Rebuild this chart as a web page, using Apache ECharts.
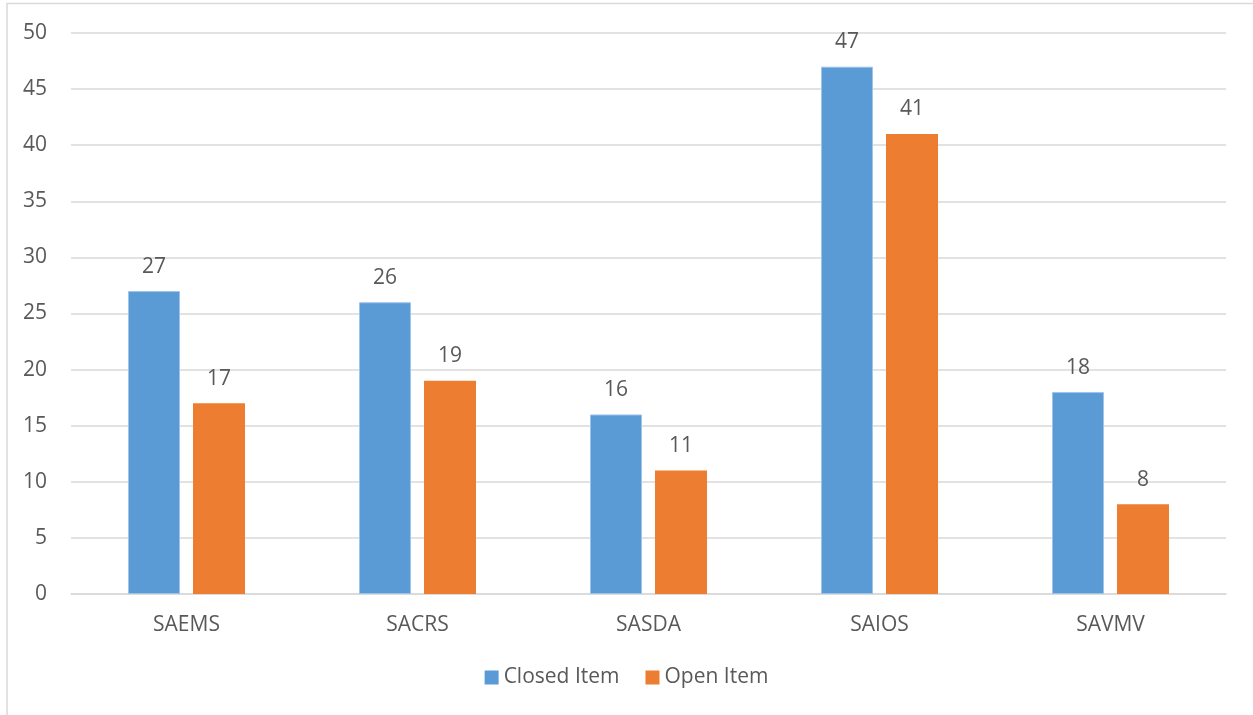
<!DOCTYPE html>
<html>
<head>
<meta charset="utf-8">
<script src="https://cdn.jsdelivr.net/npm/echarts@6/dist/echarts.min.js"></script>
<style>
html,body{margin:0;padding:0;background:#fff;}
#c{width:1253px;height:715px;}
</style>
</head>
<body>
<div id="c"></div>
<script>
const categories = ['SAEMS', 'SACRS', 'SASDA', 'SAIOS', 'SAVMV'];
const closedItem = [27, 26, 16, 47, 18];
const openItem = [17, 19, 11, 41, 8];
const seriesNames = ['Closed Item', 'Open Item'];

const font = '"Open Sans", "Liberation Sans", sans-serif';
const txt = '#595959';
const chart = echarts.init(document.getElementById('c'));
chart.setOption({
  animation: false,
  backgroundColor: '#fff',
  graphic: [{
    type: 'rect', silent: true,
    shape: { x: 7, y: 3.5, width: 1300, height: 800 },
    style: { fill: 'none', stroke: '#d9d9d9', lineWidth: 1.5 }
  }],
  grid: { left: 71, right: 27, top: 33, bottom: 121, containLabel: false },
  legend: {
    bottom: 22, left: 'center',
    itemWidth: 14, itemHeight: 14, itemGap: 26,
    icon: 'rect',
    textStyle: { color: txt, fontSize: 21, fontFamily: font },
    data: [
      { name: seriesNames[0], itemStyle: { borderWidth: 0 } },
      { name: seriesNames[1] }
    ]
  },
  xAxis: {
    type: 'category', data: categories,
    axisLine: { lineStyle: { color: '#d9d9d9', width: 1.5 } },
    axisTick: { show: false },
    axisLabel: { color: txt, fontSize: 21, fontFamily: font, margin: 21 }
  },
  yAxis: {
    type: 'value', min: 0, max: 50, interval: 5,
    axisLine: { show: false }, axisTick: { show: false },
    splitLine: { lineStyle: { color: '#d9d9d9', width: 1.5 } },
    axisLabel: { color: txt, fontSize: 21, fontFamily: font, margin: 24 }
  },
  series: [
    {
      name: seriesNames[0], type: 'bar', data: closedItem,
      barWidth: 52, barGap: '25%',
      itemStyle: { color: '#5B9BD5', borderColor: '#9fc4ea', borderWidth: 1 },
      label: { show: true, position: 'top', distance: 14, color: txt, fontSize: 21, fontFamily: font }
    },
    {
      name: seriesNames[1], type: 'bar', data: openItem,
      barWidth: 52,
      itemStyle: { color: '#ED7D31' },
      label: { show: true, position: 'top', distance: 14, color: txt, fontSize: 21, fontFamily: font }
    }
  ]
});
</script>
</body>
</html>
